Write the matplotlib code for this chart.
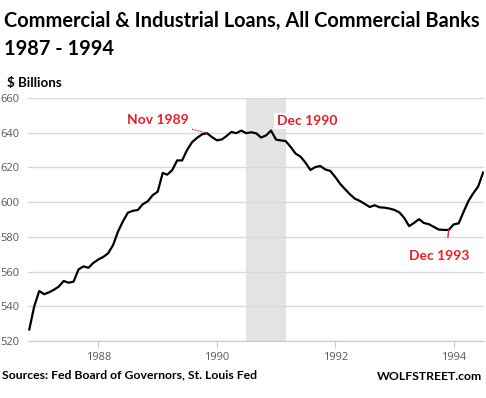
import matplotlib.pyplot as plt
import pandas as pd

# donnees mensuelles (milliards de $)
months = pd.date_range("1986-11-01", "1994-07-01", freq="MS")
loans = [
    526.7, 539.8, 548.8, 547.0, 548.0, 549.5, 551.3, 554.6, 553.6, 554.2,
    561.3, 563.0, 562.2, 565.0, 567.0, 568.5, 570.5, 575.3, 583.0, 589.0,
    593.9, 595.0, 595.5, 598.8, 600.5, 604.0, 606.0, 616.8, 615.8, 618.5,
    624.0, 624.0, 630.0, 634.5, 637.0, 639.0, 639.7, 637.5, 635.6, 636.1,
    638.0, 640.4, 639.7, 641.2, 639.7, 640.2, 639.6, 637.2, 638.4, 641.2,
    636.0, 635.5, 635.2, 631.8, 628.0, 626.2, 622.8, 618.5, 620.2, 620.8,
    618.8, 618.0, 614.5, 610.5, 607.5, 604.5, 602.0, 600.7, 599.0, 597.2,
    598.2, 597.0, 596.8, 596.3, 595.5, 594.0, 591.0, 586.2, 588.0, 590.2,
    588.0, 587.3, 585.7, 584.2, 584.0, 584.0, 587.2, 587.8, 594.0, 600.5,
    605.0, 609.0, 617.0,
]
recession = ("1990-07-01", "1991-03-01")
y_ticks = [520, 540, 560, 580, 600, 620, 640, 660]
x_ticks = ["1988", "1990", "1992", "1994"]

RED = "#ee1c25"
GREY_TXT = "#595959"
FONT = "Lato"

fig = plt.figure(figsize=(4.86, 3.98), dpi=100)
ax = fig.add_axes([0.0576, 0.143, 0.938, 0.611])

# bande de recession
ax.axvspan(pd.Timestamp(recession[0]), pd.Timestamp(recession[1]),
           color="#e3e3e3", lw=0, zorder=0)

ax.plot(months, loans, color="black", lw=1.6, zorder=3)

### axes ###
ax.set_ylim(520, 660)
ax.set_yticks(y_ticks)
ax.set_xlim(months[0] - pd.Timedelta(days=8), months[-1] + pd.Timedelta(days=5))
ax.set_xticks([pd.Timestamp(y + "-01-01") for y in x_ticks])
ax.set_xticklabels(x_ticks)
ax.grid(axis="y", color="#d9d9d9", lw=1, zorder=1)
for s in ["top", "right", "left"]:
    ax.spines[s].set_visible(False)
ax.spines["bottom"].set_color("#c5cbd6")
ax.tick_params(axis="y", length=0, pad=6, labelsize=8, labelcolor=GREY_TXT)
ax.tick_params(axis="x", length=5, color="#c5cbd6", pad=3, labelsize=8,
               labelcolor=GREY_TXT)
for lab in ax.get_xticklabels() + ax.get_yticklabels():
    lab.set_family("Open Sans")

### annotations ###
ax.annotate("Nov 1989", xy=(pd.Timestamp("1989-11-01"), 639.7),
            xytext=(pd.Timestamp("1989-01-01"), 647.2), ha="center", va="center",
            color=RED, fontsize=10, fontweight="bold", family=FONT,
            arrowprops=dict(arrowstyle="-", color=RED, lw=0.8, ls=":",
                            shrinkA=1, shrinkB=0))
ax.text(pd.Timestamp("1991-07-10"), 646.6, "Dec 1990", ha="center", va="center",
        color=RED, fontsize=10, fontweight="bold", family=FONT,
        bbox=dict(facecolor="white", edgecolor="none", pad=1.5), zorder=4)
ax.annotate("Dec 1993", xy=(pd.Timestamp("1993-12-01"), 584.0),
            xytext=(pd.Timestamp("1993-10-01"), 569.0), ha="center", va="center",
            color=RED, fontsize=10, fontweight="bold", family=FONT,
            arrowprops=dict(arrowstyle="-", color=RED, lw=1.0,
                            shrinkA=7, shrinkB=0, relpos=(0.63, 1.0)))

### textes ###
fig.text(0.008, 0.948, "Commercial & Industrial Loans, All Commercial Banks",
         fontsize=14.4, fontweight="bold", family=FONT, va="center")
fig.text(0.008, 0.878, "1987 - 1994", fontsize=14.4, fontweight="bold",
         family=FONT, va="center")
fig.text(0.014, 0.792, "$ Billions", fontsize=9.6, fontweight="bold",
         family=FONT, va="center")
fig.text(0.004, 0.058, "Sources: Fed Board of Governors, St. Louis Fed",
         fontsize=8.8, fontweight="bold", family=FONT, va="center")
fig.text(0.992, 0.055, "WOLFSTREET.com", fontsize=8.8, fontweight="bold",
         family=FONT, va="center", ha="right")

fig.savefig("out.png", dpi=100)
